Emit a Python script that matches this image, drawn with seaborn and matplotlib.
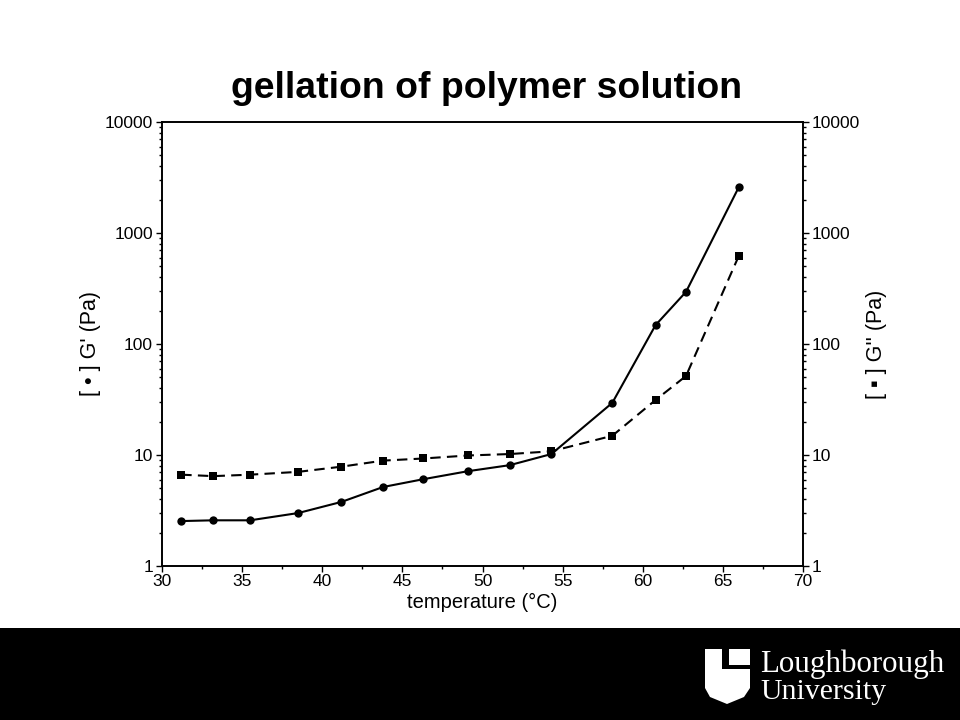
import numpy as np
import pandas as pd
import matplotlib
matplotlib.use("Agg")
import matplotlib.pyplot as plt
import seaborn as sns
from matplotlib.ticker import FixedLocator, MultipleLocator, FuncFormatter, LogLocator, NullFormatter
from matplotlib.patches import Polygon

# data
temperature = [31.2, 33.2, 35.5, 38.5, 41.2, 43.8, 46.3, 49.1, 51.7, 54.3, 58.1, 60.8, 62.7, 66.0]
g_storage = [2.54, 2.58, 2.58, 3.0, 3.78, 5.15, 6.05, 7.15, 8.1, 10.2, 29.5, 148, 295, 2600]
g_loss = [6.65, 6.45, 6.65, 7.05, 7.85, 8.9, 9.3, 9.9, 10.2, 10.8, 14.9, 31.3, 51.5, 625]

df = pd.DataFrame({"temperature": temperature, "G'": g_storage, "G''": g_loss})

sns.set_style("ticks")
plt.rcParams['font.family'] = ['Liberation Sans', 'DejaVu Sans']
plt.rcParams.update({"text.color": "black", "axes.labelcolor": "black",
                     "xtick.color": "black", "ytick.color": "black",
                     "axes.edgecolor": "black"})

fig = plt.figure(figsize=(9.6, 7.2), dpi=100)
ax = fig.add_axes([162 / 960, 1 - 566 / 720, (803 - 162) / 960, (566 - 122) / 720])
ax2 = ax.twinx()

sns.lineplot(data=df, x="temperature", y="G'", ax=ax, color="black", lw=1.5,
             marker="o", markersize=6, markeredgewidth=0)
sns.lineplot(data=df, x="temperature", y="G''", ax=ax2, color="black", lw=1.5,
             linestyle=(0, (5, 3)), marker="s", markersize=5.5, markeredgewidth=0)

fmt = FuncFormatter(lambda v, p: f"{v:g}")
for a in (ax, ax2):
    a.set_yscale("log")
    a.set_ylim(1, 10000)
    a.yaxis.set_major_locator(FixedLocator([1, 10, 100, 1000, 10000]))
    a.yaxis.set_major_formatter(fmt)
    a.yaxis.set_minor_locator(LogLocator(base=10, subs=np.arange(2, 10)))
    a.yaxis.set_minor_formatter(NullFormatter())
    a.tick_params(axis="y", which="major", length=4, width=1, labelsize=12.5, pad=2.5)
    a.tick_params(axis="y", which="minor", length=2.5, width=1)
    for s in a.spines.values():
        s.set_linewidth(1.2)
        s.set_visible(True)

ax.set_xlim(30, 70)
ax.xaxis.set_major_locator(MultipleLocator(5))
ax.xaxis.set_minor_locator(MultipleLocator(2.5))
ax.tick_params(axis="x", which="major", length=4, width=1, labelsize=12.5, pad=1.5)
ax.tick_params(axis="x", which="minor", length=2.5, width=1)

ax.set_xlabel("temperature (°C)", fontsize=14.5, labelpad=3)
ax.set_ylabel("[ • ] G' (Pa)", fontsize=15.5, labelpad=3)
ax2.set_ylabel("[ ▪ ] G'' (Pa)", fontsize=15.5, labelpad=4)

fig.text(487 / 960, 1 - 88 / 720, "gellation of polymer solution", ha="center", va="center",
         fontsize=26.9, fontweight="bold")

# bottom black band with the university mark
band = fig.add_axes([0, 0, 1, 92 / 720])
band.set_facecolor("black")
band.set_xlim(0, 960)
band.set_ylim(720, 628)
band.set_xticks([])
band.set_yticks([])
for s in band.spines.values():
    s.set_visible(False)

shield = [(705, 649), (750, 649), (750, 688), (744, 697), (727, 704), (710, 697), (705, 688)]
band.add_patch(Polygon(shield, closed=True, color="white", lw=0))
cut = [(722, 648), (729, 648), (729, 665), (751, 665), (751, 669), (722, 669)]
band.add_patch(Polygon(cut, closed=True, color="black", lw=0))
band.text(760, 672, "Loughborough", color="white", fontsize=22.3,
          family=["Liberation Serif", "DejaVu Serif"], va="baseline", ha="left")
band.text(760, 699, "University", color="white", fontsize=21.5,
          family=["Liberation Serif", "DejaVu Serif"], va="baseline", ha="left")

fig.savefig("out.png", dpi=100, facecolor="white")
